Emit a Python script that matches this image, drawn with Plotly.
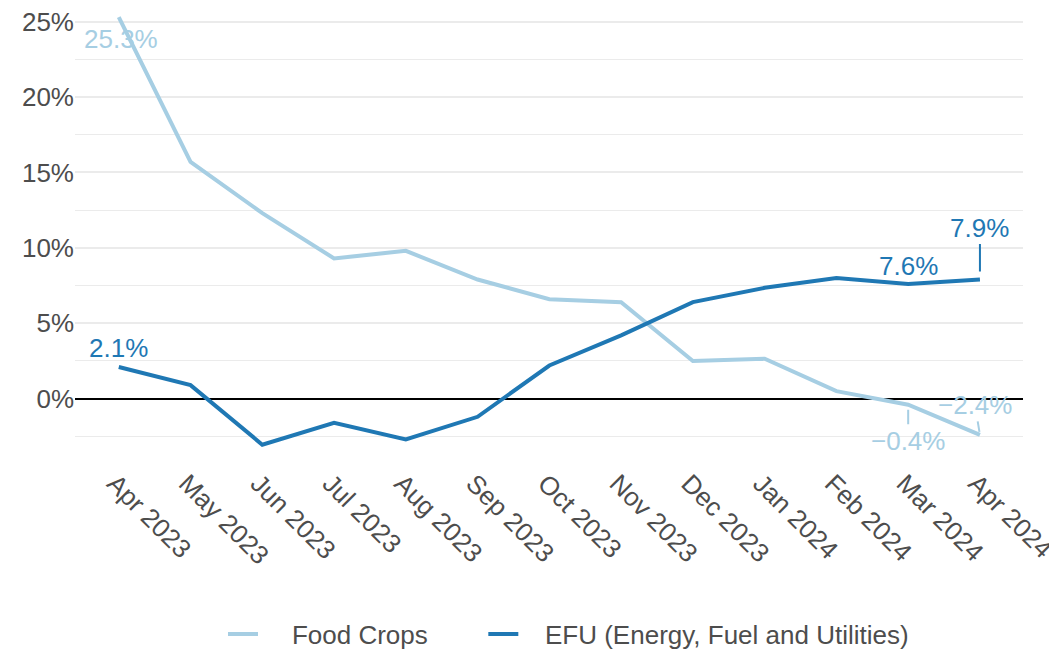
import plotly.graph_objects as go

months = ["Apr 2023", "May 2023", "Jun 2023", "Jul 2023", "Aug 2023", "Sep 2023",
          "Oct 2023", "Nov 2023", "Dec 2023", "Jan 2024", "Feb 2024", "Mar 2024", "Apr 2024"]
food_crops = [25.3, 15.7, 12.3, 9.3, 9.8, 7.9, 6.6, 6.4, 2.5, 2.65, 0.5, -0.4, -2.4]
efu = [2.1, 0.9, -3.05, -1.6, -2.7, -1.2, 2.2, 4.2, 6.4, 7.35, 8.0, 7.6, 7.9]
y_ticks = [0, 5, 10, 15, 20, 25]
y_tick_labels = ["0%", "5%", "10%", "15%", "20%", "25%"]
series_names = ["Food Crops", "EFU (Energy, Fuel and Utilities)"]

FOOD_COL = "#a6cee3"
EFU_COL = "#1f78b4"
FONT = "Liberation Sans, Arial, sans-serif"
FS = 26
NB = "\u00a0"
xi = list(range(len(months)))

fig = go.Figure()
fig.add_trace(go.Scatter(x=xi, y=food_crops, mode="lines",
                         name=NB * 4 + series_names[0] + NB * 7,
                         line=dict(color=FOOD_COL, width=4)))
fig.add_trace(go.Scatter(x=xi, y=efu, mode="lines",
                         name=NB * 3 + series_names[1],
                         line=dict(color=EFU_COL, width=4)))


def fmt(v):
    s = f"{v:.1f}%"
    return s.replace("-", "\u2212")


annotations = [
    dict(x=0, y=food_crops[0], text=fmt(food_crops[0]), showarrow=False,
         xshift=2, yshift=-22, font=dict(color=FOOD_COL, size=FS, family=FONT)),
    dict(x=11, y=food_crops[11], text=fmt(food_crops[11]), showarrow=True, arrowhead=0,
         arrowwidth=2, arrowcolor=FOOD_COL, ax=0, ay=36, standoff=5,
         font=dict(color=FOOD_COL, size=FS, family=FONT)),
    dict(x=12, y=food_crops[12], text=fmt(food_crops[12]), showarrow=True, arrowhead=0,
         arrowwidth=2, arrowcolor=FOOD_COL, ax=-5, ay=-30, standoff=3,
         font=dict(color=FOOD_COL, size=FS, family=FONT)),
    dict(x=0, y=efu[0], text=fmt(efu[0]), showarrow=False, yshift=19,
         font=dict(color=EFU_COL, size=FS, family=FONT)),
    dict(x=11, y=efu[11], text=fmt(efu[11]), showarrow=False, yshift=18,
         font=dict(color=EFU_COL, size=FS, family=FONT)),
    dict(x=12, y=efu[12], text=fmt(efu[12]), showarrow=True, arrowhead=0,
         arrowwidth=2, arrowcolor=EFU_COL, ax=0, ay=-52, standoff=8,
         font=dict(color=EFU_COL, size=FS, family=FONT)),
]

fig.update_layout(
    width=1049, height=645,
    margin=dict(l=67, r=34, t=0, b=200, autoexpand=False),
    paper_bgcolor="white", plot_bgcolor="white",
    font=dict(family=FONT, size=FS, color="#4d4d4d"),
    showlegend=True,
    legend=dict(orientation="h", x=(223 - 75) / 948, xanchor="left", y=-0.354, yanchor="top",
                font=dict(size=FS, color="#4d4d4d"), traceorder="normal"),
    annotations=annotations,
)
fig.update_xaxes(
    range=[-0.61, 12.6], tickmode="array", tickvals=xi, ticktext=months,
    tickangle=45, showgrid=False, zeroline=False, showline=False, ticks="",
    tickfont=dict(size=FS, color="#4d4d4d"), automargin=False,
    ticklabeloverflow="allow", ticklabelstandoff=9, ticklabelshift=-4,
)
fig.update_yaxes(
    range=[-3.6, 25.9], tickmode="array", tickvals=y_ticks, ticktext=y_tick_labels,
    showgrid=True, gridcolor="#ebebeb", gridwidth=2,
    minor=dict(tickmode="array", tickvals=[-2.5, 2.5, 7.5, 12.5, 17.5, 22.5],
               showgrid=True, gridcolor="#ebebeb", gridwidth=1),
    zeroline=True, zerolinecolor="black", zerolinewidth=2,
    showline=False, ticks="", tickfont=dict(size=FS, color="#4d4d4d"), automargin=False,
    ticklabeloverflow="allow",
)

fig.write_html("out.html")
